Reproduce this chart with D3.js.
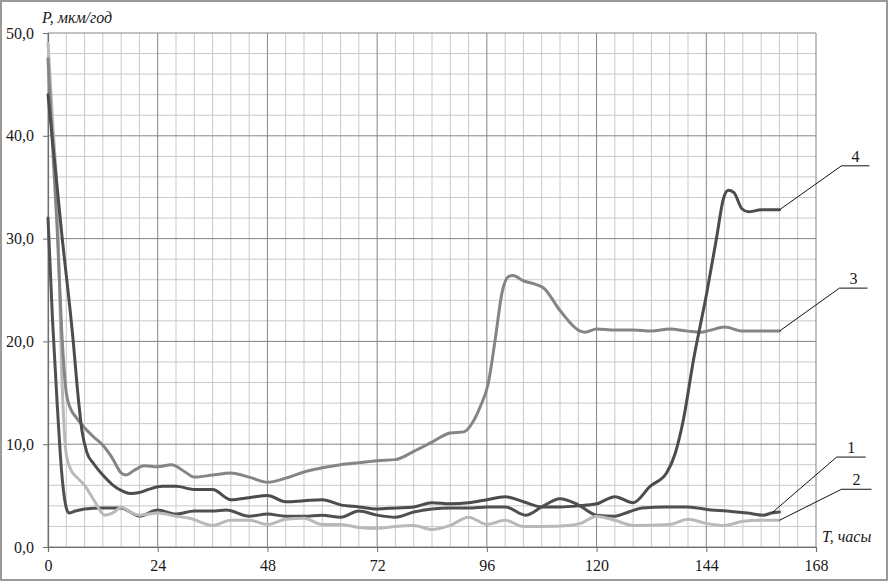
<!DOCTYPE html>
<html>
<head>
<meta charset="utf-8">
<script src="https://cdn.jsdelivr.net/npm/d3@7"></script>
<style>
  body { margin: 0; background: #fff; }
  svg { display: block; }
  svg text { font-family: "Liberation Serif", "Times New Roman", serif; }
</style>
</head>
<body>
<div id="chart"></div>
<script>
// series values (T in hours, P in mkm/year)
var hours1 = [0, 1, 2, 3, 4, 4.6, 6, 8, 12, 16, 18, 20, 24, 28, 32, 36, 39, 44, 48, 52, 56, 60, 64, 68, 72, 76, 80, 84, 88, 92, 96, 100, 104.5, 108, 112, 116, 120, 124, 127, 130, 135, 140, 145, 148.5, 153, 156.5, 158.3, 160];
var rate1  = [32, 22, 14, 7.2, 3.8, 3.3, 3.5, 3.7, 3.8, 3.8, 3.4, 3.0, 3.6, 3.2, 3.5, 3.5, 3.6, 3.0, 3.2, 3.0, 3.0, 3.1, 2.9, 3.5, 3.1, 2.9, 3.4, 3.7, 3.8, 3.8, 3.9, 3.9, 3.1, 3.9, 4.7, 4.1, 3.1, 3.0, 3.4, 3.8, 3.9, 3.9, 3.6, 3.5, 3.3, 3.1, 3.3, 3.4];

var hours2 = [0, 1, 2, 3, 4, 5, 6.5, 8, 10, 12.4, 14.5, 16, 18, 20, 24, 28, 31, 36, 40, 44, 48, 52, 56, 60, 64, 68, 72, 76, 80, 84, 88, 92, 96, 100, 104, 108, 114, 116.5, 120, 124, 128, 136, 140, 144, 148, 152, 156, 160];
var rate2  = [49, 41.5, 34, 17, 9, 7.5, 6.7, 6.0, 4.6, 3.1, 3.4, 3.9, 3.4, 3.1, 3.3, 3.0, 2.8, 2.1, 2.6, 2.6, 2.2, 2.7, 2.8, 2.2, 2.2, 1.9, 1.8, 2.0, 2.1, 1.7, 2.1, 2.9, 2.2, 2.6, 2.0, 2.0, 2.1, 2.3, 3.0, 2.6, 2.1, 2.2, 2.7, 2.3, 2.1, 2.5, 2.6, 2.6];

var hours3 = [0, 1, 2, 3, 4, 5, 6, 8, 10, 12, 14, 16, 17, 19, 21, 24, 27, 30, 32, 36, 40, 44, 48, 52, 56, 60, 64, 68, 72, 76, 80, 84, 88, 91, 93, 94.5, 96.3, 97.8, 99.3, 100.7, 101.7, 104, 107, 108.4, 112, 116.4, 117.5, 120, 124, 128, 132, 136, 140, 143, 145, 148, 152, 156, 160];
var rate3  = [47.5, 39, 31, 21, 15, 13.4, 12.7, 11.6, 10.7, 9.9, 8.7, 7.2, 7.0, 7.5, 7.9, 7.8, 8.0, 7.3, 6.8, 7.0, 7.2, 6.8, 6.3, 6.7, 7.3, 7.7, 8.0, 8.2, 8.4, 8.5, 9.3, 10.2, 11.1, 11.2, 12.2, 13.6, 15.9, 20.1, 24.7, 26.3, 26.4, 25.9, 25.5, 25.2, 23.0, 21.0, 20.9, 21.2, 21.1, 21.1, 21.0, 21.2, 21.0, 20.9, 21.1, 21.4, 21.0, 21.0, 21.0];

var hours4 = [0, 3, 5.5, 6.6, 7.4, 8.5, 10, 12, 14, 16, 18, 20, 22, 25, 28, 32, 36, 40, 44, 48, 52, 56, 60, 64, 68, 72, 76, 80, 84, 88, 92, 96, 100, 104, 108, 112, 116, 120, 124, 128, 131.7, 135.3, 137.2, 139, 141.2, 144.1, 146.3, 147.7, 148.8, 150, 151.8, 153.2, 156, 160];
var rate4  = [44, 30.5, 20.1, 14.6, 11.4, 9.2, 8.1, 7.0, 6.1, 5.5, 5.2, 5.3, 5.6, 5.9, 5.9, 5.6, 5.6, 4.6, 4.8, 5.0, 4.4, 4.5, 4.6, 4.1, 3.9, 3.7, 3.8, 3.9, 4.3, 4.2, 4.3, 4.6, 4.9, 4.4, 3.9, 3.9, 4.0, 4.2, 4.9, 4.3, 5.9, 7.2, 9.1, 12.4, 18.2, 24.7, 30.2, 33.8, 34.7, 34.5, 32.9, 32.6, 32.8, 32.8];

var seriesNames = ["1", "2", "3", "4"];
var xTicks = [0, 24, 48, 72, 96, 120, 144, 168];
var yTicks = [0, 10, 20, 30, 40, 50];
var yTickLabels = ["0,0", "10,0", "20,0", "30,0", "40,0", "50,0"];

var par = {
  w: 888, h: 581,
  left: 48, right: 816, top: 33, bottom: 547,
  major_color: "#858585", minor_color: "#c9c9c9"
};

var series = [
  {name: seriesNames[0], t: hours1, p: rate1, color: "#505050"},
  {name: seriesNames[1], t: hours2, p: rate2, color: "#b9b9b9"},
  {name: seriesNames[2], t: hours3, p: rate3, color: "#858585"},
  {name: seriesNames[3], t: hours4, p: rate4, color: "#4c4c4c"}
];

var svg = d3.select("#chart").append("svg")
  .attr("width", par.w)
  .attr("height", par.h);

var x = d3.scaleLinear().domain([0, 168]).range([par.left, par.right]);
var y = d3.scaleLinear().domain([0, 50]).range([par.bottom, par.top]);

// minor grid every 4 h / 2 units, major every 24 h / 10 units
var minorX = d3.range(0, 169, 4).filter(function(d) { return d % 24 != 0; });
var minorY = d3.range(0, 51, 2).filter(function(d) { return d % 10 != 0; });

svg.append("g").selectAll("line").data(minorX).enter().append("line")
  .attr("x1", function(d) { return x(d); }).attr("x2", function(d) { return x(d); })
  .attr("y1", par.top).attr("y2", par.bottom)
  .attr("stroke", par.minor_color).attr("stroke-width", 1);

svg.append("g").selectAll("line").data(minorY).enter().append("line")
  .attr("x1", par.left).attr("x2", par.right)
  .attr("y1", function(d) { return y(d); }).attr("y2", function(d) { return y(d); })
  .attr("stroke", par.minor_color).attr("stroke-width", 1);

svg.append("g").selectAll("line").data(xTicks).enter().append("line")
  .attr("x1", function(d) { return x(d); }).attr("x2", function(d) { return x(d); })
  .attr("y1", par.top).attr("y2", par.bottom)
  .attr("stroke", par.major_color).attr("stroke-width", 1);

svg.append("g").selectAll("line").data(yTicks).enter().append("line")
  .attr("x1", par.left).attr("x2", par.right)
  .attr("y1", function(d) { return y(d); }).attr("y2", function(d) { return y(d); })
  .attr("stroke", par.major_color).attr("stroke-width", 1);

// axes
var xAxis = d3.axisBottom(x).tickValues(xTicks).tickSize(5).tickPadding(8);
var yAxis = d3.axisLeft(y).tickValues(yTicks).tickSize(5).tickPadding(9)
  .tickFormat(function(d, i) { return yTickLabels[i]; });

var gx = svg.append("g").attr("transform", "translate(0," + par.bottom + ")").call(xAxis);
var gy = svg.append("g").attr("transform", "translate(" + par.left + ",0)").call(yAxis);

[gx, gy].forEach(function(g) {
  g.attr("font-family", null);
  g.select(".domain").attr("stroke", "#6e6e6e").attr("stroke-width", 1.2);
  g.selectAll(".tick line").attr("stroke", "#6e6e6e");
  g.selectAll(".tick text")
    .attr("font-size", 16)
    .attr("fill", "#1a1a1a");
});

// data lines
var line = d3.line()
  .x(function(d) { return x(d[0]); })
  .y(function(d) { return y(d[1]); })
  .curve(d3.curveMonotoneX);

series.forEach(function(s) {
  var pts = s.t.map(function(t, i) { return [t, s.p[i]]; });
  svg.append("path")
    .datum(pts)
    .attr("d", line)
    .attr("fill", "none")
    .attr("stroke", s.color)
    .attr("stroke-width", 3)
    .attr("stroke-linejoin", "round")
    .attr("stroke-linecap", "round");
});

// leader lines with series numbers
var leaders = [
  {s: 0, at: 158.3, dx: 65, dy: -56, len: 29},
  {s: 1, at: 160, dx: 62, dy: -31, len: 30},
  {s: 2, at: 160, dx: 60, dy: -43, len: 28},
  {s: 3, at: 160, dx: 62, dy: -44, len: 28}
];

leaders.forEach(function(l) {
  var s = series[l.s];
  var i = s.t.indexOf(l.at);
  var x0 = x(s.t[i]), y0 = y(s.p[i]);
  var x1 = x0 + l.dx, y1 = y0 + l.dy;
  svg.append("path")
    .attr("d", "M" + x0 + "," + y0 + "L" + x1 + "," + y1 + "L" + (x1 + l.len) + "," + y1)
    .attr("fill", "none")
    .attr("stroke", "#111")
    .attr("stroke-width", 1);
  svg.append("text")
    .attr("x", x1 + l.len / 2)
    .attr("y", y1 - 4)
    .attr("text-anchor", "middle")
    .attr("font-size", 16)
    .attr("fill", "#1a1a1a")
    .text(s.name);
});

// axis titles
svg.append("text")
  .attr("x", 42).attr("y", 23)
  .attr("font-style", "italic")
  .attr("font-size", 16).attr("fill", "#1a1a1a")
  .text("P, мкм/год");

svg.append("text")
  .attr("x", 822).attr("y", 542)
  .attr("font-style", "italic")
  .attr("font-size", 16).attr("fill", "#1a1a1a")
  .text("T, часы");

// outer frame
svg.append("rect")
  .attr("x", 1).attr("y", 1)
  .attr("width", par.w - 2).attr("height", par.h - 2)
  .attr("fill", "none")
  .attr("stroke", "#9a9a9a")
  .attr("stroke-width", 2);
</script>
</body>
</html>
